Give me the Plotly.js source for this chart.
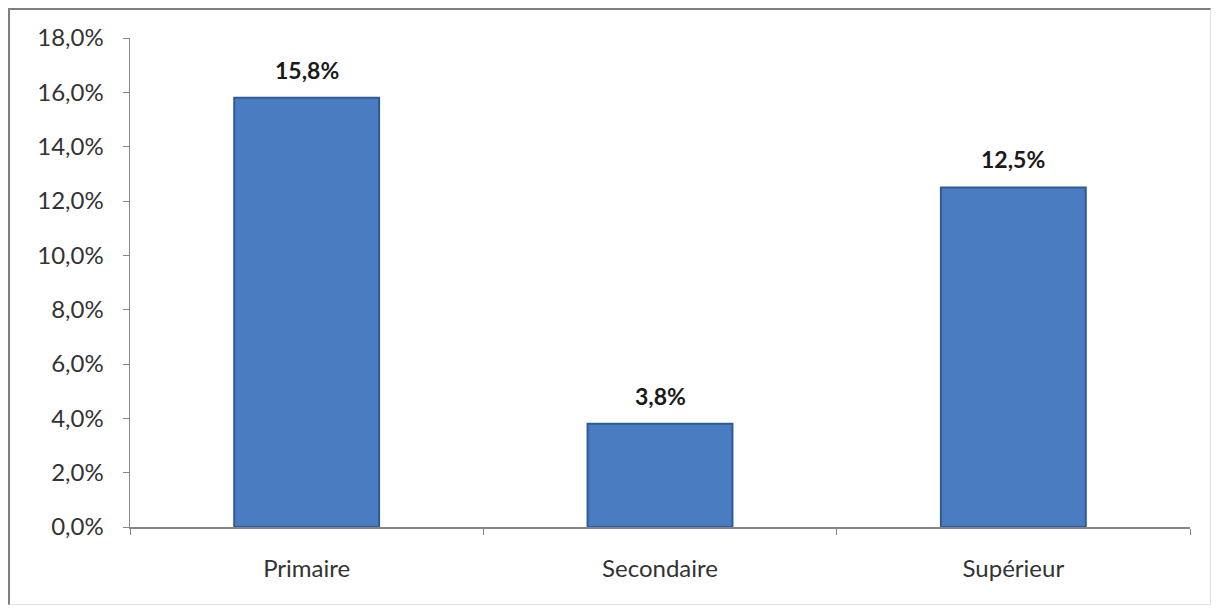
<!DOCTYPE html>
<html>
<head>
<meta charset="utf-8">
<script src="https://cdn.plot.ly/plotly-3.0.1.min.js"></script>
<style>
  html, body { margin: 0; padding: 0; background: #ffffff; }
  #frame {
    position: absolute; left: 8px; top: 8px;
    width: 1200px; height: 594px;
    border-top: 2px solid #7f7f7f; border-left: 2px solid #7f7f7f;
    border-right: 1px solid #e2e2e2; border-bottom: 1px solid #e2e2e2;
  }
  #chart { width: 1200px; height: 594px; }
</style>
</head>
<body>
<div id="frame"><div id="chart"></div></div>
<script>
// Data
const categories = ["Primaire", "Secondaire", "Supérieur"];
const values = [15.8, 3.8, 12.5];
const yTickValues = [0, 2, 4, 6, 8, 10, 12, 14, 16, 18];
const yTickLabels = ["0,0%", "2,0%", "4,0%", "6,0%", "8,0%", "10,0%", "12,0%", "14,0%", "16,0%", "18,0%"];
const valueLabels = ["15,8%", "3,8%", "12,5%"];

const trace = {
  type: "bar",
  x: categories,
  y: values,
  width: 0.41,
  marker: { color: "#4a7cc2", line: { color: "#2f5b94", width: 2 } },
  hoverinfo: "none"
};

const annotations = categories.map((c, i) => ({
  x: c, y: values[i], xref: "x", yref: "y",
  text: valueLabels[i], showarrow: false,
  yanchor: "bottom", yshift: 12,
  font: { family: "Lato, sans-serif", size: 23, color: "#1a1a1a", weight: "bold" }
}));

const layout = {
  width: 1200, height: 594,
  margin: { l: 120, r: 20, t: 28, b: 77 },
  paper_bgcolor: "#ffffff", plot_bgcolor: "#ffffff",
  showlegend: false,
  font: { family: "Lato, sans-serif", size: 24, color: "#333333" },
  annotations: annotations,
  xaxis: {
    type: "category",
    showline: true, linecolor: "#868686", linewidth: 1.5,
    ticks: "outside", tickson: "boundaries", ticklen: 6, tickcolor: "#868686",
    ticklabelstandoff: 20,
    showgrid: false, zeroline: false,
    tickfont: { size: 24, color: "#333333" }
  },
  yaxis: {
    range: [0, 18],
    tickmode: "array", tickvals: yTickValues, ticktext: yTickLabels,
    showline: true, linecolor: "#868686", linewidth: 1.5,
    ticks: "outside", ticklen: 6, tickcolor: "#868686",
    ticklabelstandoff: 14,
    showgrid: false, zeroline: false,
    tickfont: { size: 24, color: "#333333" }
  },
  bargap: 0.59
};

Plotly.newPlot("chart", [trace], layout, { staticPlot: true, displayModeBar: false });
</script>
</body>
</html>
